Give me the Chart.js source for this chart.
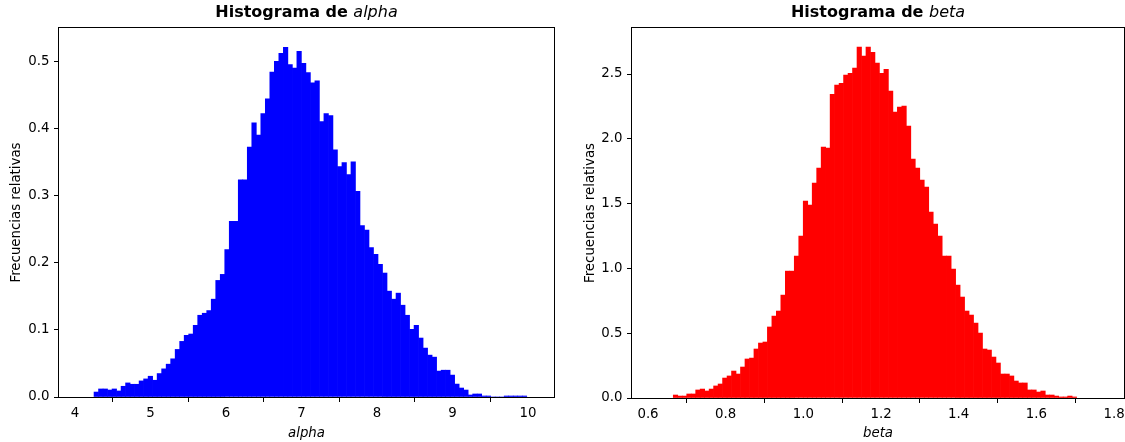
<!DOCTYPE html>
<html><head><meta charset="utf-8">
<script src="https://cdn.jsdelivr.net/npm/chart.js@4.4.1/dist/chart.umd.min.js"></script>
<style>
html,body{margin:0;padding:0;background:#fff;overflow:hidden;width:1125px;height:442px}
canvas{position:absolute;top:0}
#c1{left:0}
#c2{left:570px}
</style></head><body>
<canvas id="c1" width="570" height="442"></canvas>
<canvas id="c2" width="555" height="442"></canvas>
<script>
// ---- data ----
const alphaBinStart = 4.252, alphaBinWidth = 0.0597;
const alphaFreq = [
0.0074, 0.012, 0.012, 0.0104, 0.012, 0.009, 0.016, 0.021, 0.019, 0.019,
0.024, 0.027, 0.031, 0.025, 0.035, 0.042, 0.049, 0.057, 0.071, 0.083,
0.092, 0.094, 0.107, 0.122, 0.125, 0.129, 0.146, 0.174, 0.183, 0.220,
0.262, 0.262, 0.324, 0.324, 0.373, 0.409, 0.391, 0.423, 0.445, 0.485,
0.501, 0.513, 0.522, 0.496, 0.491, 0.516, 0.498, 0.484, 0.469, 0.472,
0.411, 0.423, 0.420, 0.369, 0.344, 0.350, 0.332, 0.351, 0.307, 0.256,
0.249, 0.223, 0.213, 0.198, 0.185, 0.158, 0.146, 0.155, 0.137, 0.122,
0.101, 0.107, 0.088, 0.073, 0.0625, 0.0595, 0.0387, 0.040, 0.040, 0.0327,
0.0193, 0.0134, 0.0104, 0.003, 0.0045, 0.0045, 0.0015, 0.0015, 0, 0,
0, 0.0015, 0.0015, 0.0015, 0.0015, 0.0015
];
const betaBinStart = 0.6651, betaBinWidth = 0.01154;
const betaFreq = [
0.023, 0.015, 0.015, 0.031, 0.031, 0.062, 0.069, 0.054, 0.069, 0.093,
0.108, 0.154, 0.170, 0.208, 0.185, 0.239, 0.301, 0.308, 0.378, 0.424,
0.432, 0.548, 0.632, 0.671, 0.794, 0.979, 0.979, 1.095, 1.249, 1.519,
1.488, 1.658, 1.774, 1.936, 1.928, 2.344, 2.414, 2.429, 2.491, 2.506,
2.545, 2.707, 2.638, 2.707, 2.668, 2.584, 2.506, 2.537, 2.368, 2.206,
2.244, 2.252, 2.098, 1.843, 1.774, 1.681, 1.627, 1.434, 1.342, 1.249,
1.095, 1.095, 0.995, 0.871, 0.779, 0.671, 0.640, 0.578, 0.501, 0.378,
0.370, 0.316, 0.270, 0.185, 0.185, 0.170, 0.131, 0.116, 0.116, 0.062,
0.062, 0.046, 0.054, 0.023, 0.023, 0.015, 0.008, 0.008, 0.015, 0.008
];
const alphaTicksX = [4, 5, 6, 7, 8, 9, 10];
const alphaTicksY = [0, 0.1, 0.2, 0.3, 0.4, 0.5];
const betaTicksX = [0.6, 0.8, 1.0, 1.2, 1.4, 1.6, 1.8];
const betaTicksY = [0, 0.5, 1.0, 1.5, 2.0, 2.5];
const titlePrefix = 'Histograma de ';
const yLabel = 'Frecuencias relativas';

const FAMILY = "'DejaVu Sans', sans-serif";
const FS = 13.33;

const titlePlugin = {
  id: 'mtitle',
  afterDraw(chart, args, opts) {
    const ctx = chart.ctx, ca = chart.chartArea;
    const bold = '700 16px ' + FAMILY, ital = 'italic 400 16px ' + FAMILY;
    ctx.save();
    ctx.font = bold; const w1 = ctx.measureText(opts.prefix).width;
    ctx.font = ital; const w2 = ctx.measureText(opts.varName).width;
    const x0 = (ca.left + ca.right) / 2 - (w1 + w2) / 2;
    ctx.fillStyle = '#000'; ctx.textAlign = 'left'; ctx.textBaseline = 'alphabetic';
    ctx.font = bold; ctx.fillText(opts.prefix, x0, opts.baseline);
    ctx.font = ital; ctx.fillText(opts.varName, x0 + w1, opts.baseline);
    ctx.restore();
  }
};
const framePlugin = {
  id: 'frame',
  afterDatasetsDraw(chart) {
    const ctx = chart.ctx, ca = chart.chartArea;
    ctx.save();
    ctx.strokeStyle = '#000'; ctx.lineWidth = 1;
    ctx.strokeRect(Math.round(ca.left) - 0.5, Math.round(ca.top) - 0.5,
      Math.round(ca.right - ca.left) + 1, Math.round(ca.bottom - ca.top) + 1);
    ctx.restore();
  }
};

function makeHist(id, o) {
  const pts = o.freq.map((v, i) => ({ x: o.start + o.width * (i + 0.5), y: v }));
  return new Chart(document.getElementById(id), {
    type: 'bar',
    data: { datasets: [{ data: pts, backgroundColor: o.color, borderWidth: 0,
      barPercentage: 1, categoryPercentage: 1 }] },
    options: {
      responsive: false, animation: false, devicePixelRatio: 1,
      layout: { padding: { left: 0, right: o.padRight, top: 28, bottom: 0 } },
      plugins: { legend: { display: false }, tooltip: { enabled: false },
        mtitle: { prefix: titlePrefix, varName: o.varName, baseline: 17 } },
      scales: {
        x: {
          type: 'linear', min: o.xmin, max: o.xmax, offset: false,
          afterBuildTicks: s => { s.ticks = o.xTicks.map(v => ({ value: v })); },
          afterFit: s => { s.height = o.xH; s.paddingLeft = 0; s.paddingRight = 0; },
          grid: { display: true, drawOnChartArea: false, drawTicks: true, tickLength: 5, color: '#000', lineWidth: 1 },
          border: { display: false },
          ticks: { color: '#000', font: { family: FAMILY, size: FS }, padding: 4, maxRotation: 0, autoSkip: false,
            callback: v => Number(v).toFixed(o.xDec) },
          title: { display: true, text: o.varName, color: '#000',
            font: { family: FAMILY, size: FS, style: 'italic' }, padding: { top: 0, bottom: 0 } }
        },
        y: {
          type: 'linear', min: 0, max: o.ymax,
          afterBuildTicks: s => { s.ticks = o.yTicks.map(v => ({ value: v })); },
          afterFit: s => { s.width = o.yW; s.paddingTop = 0; s.paddingBottom = 0; },
          grid: { display: true, drawOnChartArea: false, drawTicks: true, tickLength: 5, color: '#000', lineWidth: 1 },
          border: { display: false },
          ticks: { color: '#000', font: { family: FAMILY, size: FS }, padding: 4.5,
            callback: v => Number(v).toFixed(1) },
          title: { display: true, text: yLabel, color: '#000',
            font: { family: FAMILY, size: FS }, padding: { top: o.yTitlePad, bottom: 0 } }
        }
      }
    },
    plugins: [titlePlugin, framePlugin]
  });
}

makeHist('c1', { start: alphaBinStart, width: alphaBinWidth, freq: alphaFreq, color: '#0000ff',
  xmin: 3.788, xmax: 10.344, ymax: 0.5507, xTicks: alphaTicksX, yTicks: alphaTicksY, xDec: 0,
  varName: 'alpha', yW: 59, xH: 45, padRight: 16, yTitlePad: 9 });
makeHist('c2', { start: betaBinStart, width: betaBinWidth, freq: betaFreq, color: '#ff0000',
  xmin: 0.5588, xmax: 1.8257, ymax: 2.855, xTicks: betaTicksX, yTicks: betaTicksY, xDec: 1,
  varName: 'beta', yW: 62, xH: 44, padRight: 1, yTitlePad: 13 });
</script>
</body></html>
